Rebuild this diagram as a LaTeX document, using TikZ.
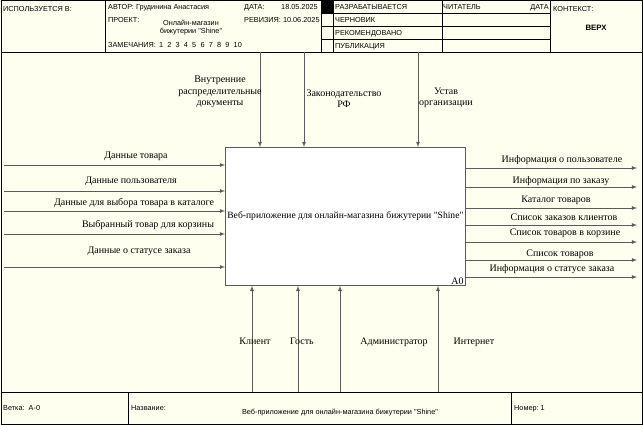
\documentclass[tikz,border=0pt]{standalone}
\usepackage{fontspec}
\setmainfont{Liberation Serif}[Ligatures=TeXOff]
\newfontfamily\hdrfont{Liberation Sans}[Ligatures=TeXOff]
\usepackage{tikz}
\usetikzlibrary{calc,positioning,arrows}

\definecolor{paper}{HTML}{FFFFF0}
\definecolor{flowgray}{HTML}{5A5A5A}

\begin{document}
\begin{tikzpicture}[x=1pt,y=-1pt,>=latex,
		hdr/.style={font=\hdrfont\fontsize{7.3}{8}\selectfont,inner sep=0pt,anchor=base west},
		lbl/.style={font=\fontsize{10}{11.5}\selectfont,inner sep=0pt,align=center,anchor=base},
		flow/.style={->,draw=flowgray,line width=0.8pt}]
		\fill[paper] (0,0) rectangle (643,425);
		\useasboundingbox (0,0) rectangle (643,425);
		% frame and header / footer grid
		\draw[line width=0.8pt] (1,0.5) rectangle (642,424.5);
		\draw (1,52) -- (642,52) (1,392) -- (642,392);
		\draw (105,0) -- (105,52) (321,0) -- (321,52) (333,0) -- (333,52)
			  (442,0) -- (442,52) (550,0) -- (550,52);
		\foreach \y in {13,26,39}
			\draw (321,\y) -- (550,\y);
		\fill (321,0) rectangle (333,13);
		\draw (128,392) -- (128,425) (511,392) -- (511,425);
		% header texts
		\node(used)   [hdr] at (3,12)   {ИСПОЛЬЗУЕТСЯ В:};
		\node(author) [hdr] at (108,9.5) {АВТОР: Грудинина Анастасия};
		\node(date)   [hdr] at (244,9.5) {ДАТА:};
		\node(dateV)  [hdr] at (281,9.5) {18.05.2025};
		\node(proj)   [hdr] at (108,23) {ПРОЕКТ:};
		\node(projV1) [hdr,anchor=base] at (191,25.5) {Онлайн-магазин};
		\node(projV2) [hdr,anchor=base] at (191,34) {бижутерии "Shine"};
		\node(rev)    [hdr] at (244,23) {РЕВИЗИЯ: 10.06.2025};
		\node(notes)  [hdr] at (108,48) {ЗАМЕЧАНИЯ:};
		\foreach \n [count=\k] in {1,...,10}
			\node(note\n) [hdr] at (150.5+8.3*\k,48) {\n};
		\node(st1)    [hdr] at (335,9.5) {РАЗРАБАТЫВАЕТСЯ};
		\node(st2)    [hdr] at (335,23) {ЧЕРНОВИК};
		\node(st3)    [hdr] at (335,36) {РЕКОМЕНДОВАНО};
		\node(st4)    [hdr] at (335,48.5) {ПУБЛИКАЦИЯ};
		\node(reader) [hdr] at (443,9.5) {ЧИТАТЕЛЬ};
		\node(rdate)  [hdr,anchor=base east] at (549,9.5) {ДАТА};
		\node(ctx)    [hdr] at (553,12) {КОНТЕКСТ:};
		\node(top)    [hdr,anchor=base,font=\hdrfont\bfseries\fontsize{7.8}{8}\selectfont] at (596,31) {ВЕРХ};
		% footer texts
		\node(branch) [hdr] at (3,410) {Ветка:\ \ A-0};
		\node(title)  [hdr] at (131,410) {Название:};
		\node(titleV) [hdr,anchor=base] at (340,414) {Веб-приложение для онлайн-магазина бижутерии "Shine"};
		\node(num)    [hdr] at (514,410) {Номер:\ 1};
		% activity box
		\node(A0) [draw=flowgray,fill=white,line width=0.8pt,anchor=north west,inner sep=1pt,
			minimum width=240pt,minimum height=138pt,font=\fontsize{9.6}{11}\selectfont]
			at (225,147) {Веб-приложение для онлайн-магазина бижутерии "Shine"};
		\node(A0n) [lbl,anchor=south east] at ($(A0.south east)+(-2,-1.5)$) {A0};
		% inputs
		\foreach \i/\y/\lx/\ly/\t in {1/165/136/159/Данные товара,
				2/191/131/183/Данные пользователя,
				3/211/134/205/Данные для выбора товара в каталоге,
				4/234/148/227/Выбранный товар для корзины,
				5/267/139/253/Данные о статусе заказа} {
			\coordinate (in\i) at (4,\y);
			\draw[flow] (in\i) -- (in\i -| A0.west);
			\node(inL\i) [lbl] at (\lx,\ly) {\t};
		}
		% outputs
		\foreach \i/\y/\lx/\ly/\t in {1/168/562/163/Информация о пользователе,
				2/187/561/183/Информация по заказу,
				3/208/556/203/Каталог товаров,
				4/225/564/221/Список заказов клиентов,
				5/242/565/236/Список товаров в корзине,
				6/260/560/256/Список товаров,
				7/277/552/271/Информация о статусе заказа} {
			\coordinate (out\i) at (637,\y);
			\draw[flow] (out\i -| A0.east) -- (out\i);
			\node(outL\i) [lbl] at (\lx,\ly) {\t};
		}
		% controls
		\coordinate (ctl1) at (260,52);
		\coordinate (ctl2) at (304,52);
		\coordinate (ctl3) at (418,52);
		\foreach \i in {1,2,3}
			\draw[flow] (ctl\i) -- (ctl\i |- A0.north);
		\node(ctlL1) [lbl,anchor=south] at (220,108) {Внутренние\\распределительные\\документы};
		\node(ctlL2) [lbl,anchor=south] at (344,108) {Законодательство\\РФ};
		\node(ctlL3) [lbl,anchor=south] at (446,108) {Устав\\организации};
		% mechanisms
		\foreach \i/\x/\lx/\t in {1/252/255/Клиент,2/298/302/Гость,3/340/394/Администратор,4/438/474/Интернет} {
			\coordinate (mech\i) at (\x,392);
			\draw[flow] (mech\i) -- (mech\i |- A0.south);
			\node(mechL\i) [lbl] at (\lx,344) {\t};
		}
	\end{tikzpicture}
\end{document}
